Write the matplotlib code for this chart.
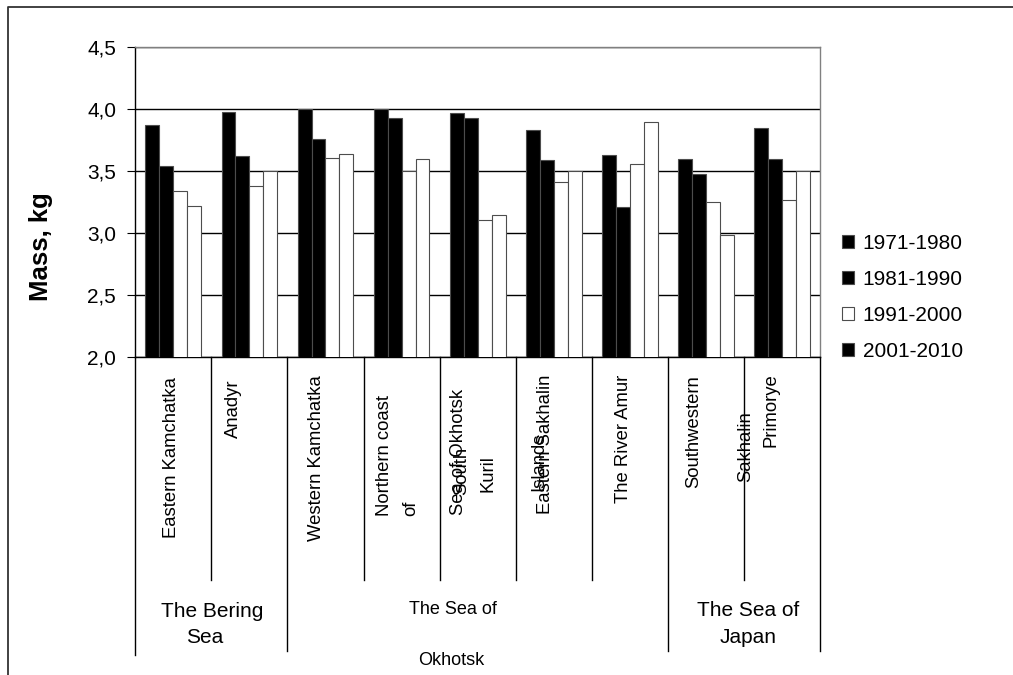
import matplotlib
matplotlib.use("Agg")
import matplotlib.pyplot as plt
from matplotlib.lines import Line2D
from matplotlib.transforms import blended_transform_factory

plt.rcParams['font.family'] = ['Liberation Sans', 'DejaVu Sans']

# ---- data -------------------------------------------------------------
regions = ["Eastern Kamchatka", "Anadyr", "Western Kamchatka",
           "Northern coast of Sea of Okhotsk", "South Kuril Islands",
           "Eastern Sakhalin", "The River Amur", "Southwestern Sakhalin",
           "Primorye"]
seas = ["The Bering Sea", "The Sea of Okhotsk", "The Sea of Japan"]
sea_sizes = [2, 5, 2]
decades = ["1971-1980", "1981-1990", "1991-2000", "2001-2010"]
mass_1971_1980 = [3.87, 3.98, 4.00, 4.00, 3.97, 3.83, 3.63, 3.60, 3.85]
mass_1981_1990 = [3.54, 3.62, 3.76, 3.93, 3.93, 3.59, 3.21, 3.48, 3.60]
mass_1991_2000 = [3.34, 3.38, 3.61, 3.50, 3.11, 3.41, 3.56, 3.25, 3.27]
mass_2001_2010 = [3.22, 3.50, 3.64, 3.60, 3.15, 3.50, 3.90, 2.99, 3.50]
y_ticks = [2.0, 2.5, 3.0, 3.5, 4.0, 4.5]

# ---- layout (pixels of a 1013 x 675 canvas) ----------------------------
W, H = 1013, 675
AX_L, AX_R, AX_T, AX_B = 135.3, 820.0, 47.3, 357.3


def fx(px):
    return px / W


def fy(py):
    return 1 - py / H


fig = plt.figure(figsize=(W / 100, H / 100), dpi=100)
ax = fig.add_axes([fx(AX_L), fy(AX_B), (AX_R - AX_L) / W, (AX_B - AX_T) / H])

n = len(regions)
px_per_cat = (AX_R - AX_L) / n
bar_w = 0.1833
series = [mass_1971_1980, mass_1981_1990, mass_1991_2000, mass_2001_2010]
fills = ['black', 'black', 'white', 'white']

for i, (vals, lab, col) in enumerate(zip(series, decades, fills)):
    xs = [k + 0.5 + (i - 1.5) * bar_w for k in range(n)]
    ax.bar(xs, vals, bar_w, color=col, edgecolor='#4d4d4d', linewidth=0.8,
           label=lab, zorder=3)

ax.set_xlim(0, n)
ax.set_ylim(y_ticks[0], y_ticks[-1])
ax.set_yticks(y_ticks)
ax.set_yticklabels([f"{v:.1f}".replace('.', ',') for v in y_ticks])
ax.set_xticks([])
ax.yaxis.grid(True, color='black', linewidth=1.0)
ax.set_axisbelow(True)
ax.tick_params(axis='y', direction='out', length=5.8, width=0.8, pad=8,
               labelsize=15)
for side in ('top', 'right'):
    ax.spines[side].set_color('#808080')
for side in ('left', 'bottom'):
    ax.spines[side].set_color('black')
for sp in ax.spines.values():
    sp.set_linewidth(1.0)

ax.set_ylabel("Mass, kg", fontsize=18.5, fontweight='bold')
ax.yaxis.label.set_va('center')
ax.yaxis.set_label_coords((41 - AX_L) / (AX_R - AX_L),
                          (AX_B - 246.7) / (AX_B - AX_T))

# ---- two-level category axis -------------------------------------------
trans = blended_transform_factory(ax.transData, fig.transFigure)
group_edges = [0]
for s in sea_sizes:
    group_edges.append(group_edges[-1] + s)

for b in range(n + 1):
    if b == 0:
        bottom = 655
    elif b in group_edges:
        bottom = 651
    else:
        bottom = 580
    fig.add_artist(Line2D([b, b], [fy(AX_B), fy(bottom)], transform=trans,
                          color='black', lw=1.0))

# wrapped lines of each region name: (text, x shift px, y px, anchor)
region_lines = [
    [("Eastern Kamchatka", -2.3, 376.7, 'top')],
    [("Anadyr", -16.0, 380, 'top')],
    [("Western Kamchatka", -8.5, 375, 'top')],
    [("Northern coast", -17.0, 516.5, 'bottom'), ("of", 9.0, 516.5, 'bottom'),
     ("Sea of Okhotsk", 57.0, 515, 'bottom')],
    [("South", -16.0, 471, 'center'), ("Kuril", 10.3, 473.5, 'center'),
     ("Islands", 61.0, 461.5, 'center')],
    [("Eastern Sakhalin", -8.4, 375, 'top')],
    [("The River Amur", -6.3, 375, 'top')],
    [("Southwestern", -11.7, 375, 'top'), ("Sakhalin", 39.4, 446.7, 'center')],
    [("Primorye", -10.5, 373, 'top')],
]
for k, lines in enumerate(region_lines):
    for text, dx, ypx, va in lines:
        ax.text(k + 0.5 + dx / px_per_cat, fy(ypx), text, transform=trans,
                rotation=90, ha='center', va=va, fontsize=13.3, clip_on=False)

# sea names, two lines each: (font size, [(x shift px, baseline px), ...])
sea_lines = [
    (15, [(0.9, 616.7), (-6.4, 642.7)]),
    (13, [(-24.7, 614), (-26.2, 665)]),
    (15, [(4.7, 615.7), (4.0, 642.7)]),
]
for g, (name, (fs, pos)) in enumerate(zip(seas, sea_lines)):
    centre = (group_edges[g] + group_edges[g + 1]) / 2
    for text, (dx, base) in zip(name.rsplit(' ', 1), pos):
        ax.text(centre + dx / px_per_cat, fy(base), text, transform=trans,
                ha='center', va='baseline', fontsize=fs, clip_on=False)

# ---- legend -------------------------------------------------------------
leg = ax.legend(loc='upper left', bbox_to_anchor=(fx(842), fy(234)),
                bbox_transform=fig.transFigure, frameon=False, fontsize=15,
                handlelength=0.58, handleheight=0.58, handletextpad=0.42,
                labelspacing=0.82, borderpad=0, borderaxespad=0)
leg.legend_handles[3].set_facecolor('black')

# ---- outer frame ----------------------------------------------------------
fig.add_artist(Line2D([fx(8), fx(8), 1.0], [0, fy(7.3), fy(7.3)],
                      transform=fig.transFigure, color='#333333', lw=1.3))

fig.savefig('out.png', dpi=100)
